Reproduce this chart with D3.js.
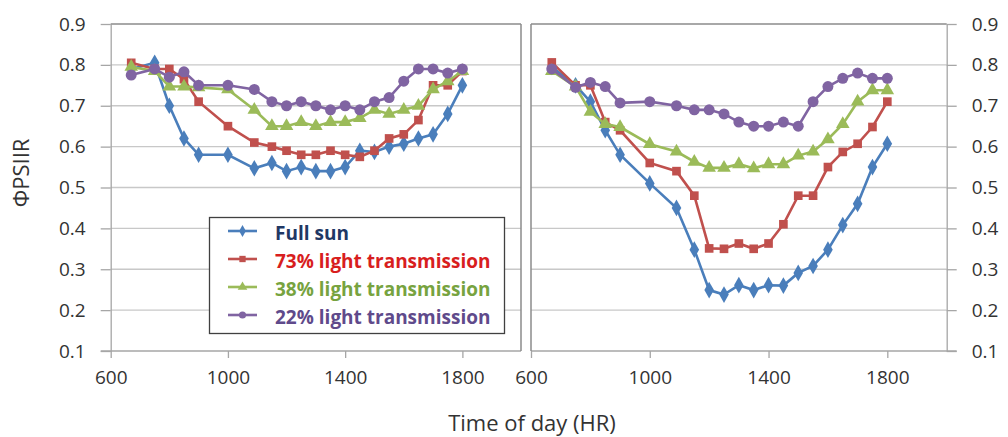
<!DOCTYPE html>
<html>
<head>
<meta charset="utf-8">
<script src="https://cdn.jsdelivr.net/npm/d3@7"></script>
<style>
  body { margin: 0; background: #fff; }
  text { font-family: "Open Sans", Lato, sans-serif; fill: #333; }
</style>
</head>
<body>
<script>
const WIDTH = 1008;
const HEIGHT = 437;
const TOP = 24;
const BOTTOM = 351;

// time of day (HR), same for both panels
var times = [670, 750, 800, 850, 900, 1000, 1090, 1150, 1200, 1250, 1300, 1350, 1400, 1450, 1500, 1550, 1600, 1650, 1700, 1750, 1800];

var fullSunLeft = [0.79, 0.805, 0.70, 0.62, 0.58, 0.58, 0.547, 0.56, 0.54, 0.55, 0.54, 0.54, 0.55, 0.59, 0.587, 0.60, 0.607, 0.62, 0.63, 0.68, 0.75];
var light73Left = [0.805, 0.79, 0.79, 0.765, 0.71, 0.65, 0.61, 0.60, 0.59, 0.58, 0.58, 0.59, 0.58, 0.575, 0.59, 0.62, 0.63, 0.665, 0.75, 0.75, 0.785];
var light38Left = [0.795, 0.785, 0.747, 0.747, 0.745, 0.74, 0.69, 0.65, 0.65, 0.66, 0.65, 0.66, 0.66, 0.67, 0.69, 0.68, 0.69, 0.70, 0.74, 0.76, 0.785];
var light22Left = [0.775, 0.79, 0.77, 0.783, 0.75, 0.75, 0.74, 0.71, 0.70, 0.71, 0.70, 0.69, 0.70, 0.69, 0.71, 0.72, 0.76, 0.79, 0.79, 0.78, 0.79];

var fullSunRight = [0.795, 0.75, 0.71, 0.64, 0.58, 0.51, 0.45, 0.348, 0.249, 0.238, 0.261, 0.249, 0.261, 0.26, 0.291, 0.308, 0.348, 0.408, 0.46, 0.55, 0.607];
var light73Right = [0.806, 0.75, 0.75, 0.66, 0.64, 0.56, 0.54, 0.48, 0.351, 0.35, 0.363, 0.35, 0.363, 0.41, 0.48, 0.48, 0.55, 0.587, 0.607, 0.648, 0.71];
var light38Right = [0.785, 0.747, 0.685, 0.655, 0.648, 0.606, 0.588, 0.563, 0.548, 0.548, 0.557, 0.547, 0.557, 0.557, 0.578, 0.588, 0.618, 0.655, 0.71, 0.738, 0.738];
var light22Right = [0.79, 0.745, 0.757, 0.747, 0.707, 0.71, 0.70, 0.69, 0.69, 0.68, 0.66, 0.65, 0.65, 0.66, 0.65, 0.71, 0.747, 0.767, 0.78, 0.767, 0.767];

var seriesNames = ['Full sun', '73% light transmission', '38% light transmission', '22% light transmission'];
var xTicks = [600, 1000, 1400, 1800];
var yTicks = [0.1, 0.2, 0.3, 0.4, 0.5, 0.6, 0.7, 0.8, 0.9];

var lineColors = ['#4a7ebb', '#c0504d', '#9bbb59', '#8064a2'];
var textColors = ['#1f3864', '#d81e1e', '#77a33f', '#5f4a8b'];
var symbols = [d3.symbolDiamond, d3.symbolSquare, d3.symbolTriangle, d3.symbolCircle];
var symbolSizes = [80, 75, 80, 95];

var svg = d3.select('body').append('svg')
    .attr('width', WIDTH)
    .attr('height', HEIGHT);

var yScale = d3.scaleLinear().domain([0.1, 0.9]).range([BOTTOM, TOP]);

var drawPanel = function (x0, x1, side, seriesValues) {
    var xScale = d3.scaleLinear().domain([600, 2000]).range([x0, x1]);

    // gridlines
    svg.append('g')
        .selectAll('line')
        .data(yTicks.slice(1, -1))
        .enter().append('line')
        .attr('x1', x0).attr('x2', x1)
        .attr('y1', yScale).attr('y2', yScale)
        .attr('stroke', '#c8c8c8')
        .attr('stroke-width', 1.3);

    // y axis with outward ticks
    var yAxis = side === 'left' ? d3.axisLeft(yScale) : d3.axisRight(yScale);
    var yG = svg.append('g')
        .attr('transform', 'translate(' + (side === 'left' ? x0 : x1) + ',0)')
        .call(yAxis.tickValues(yTicks).tickSize(10).tickPadding(15).tickSizeOuter(0).tickFormat(d3.format('.1f')));
    yG.selectAll('line, path').attr('stroke', '#a6a6a6').attr('stroke-width', 1.3);
    yG.selectAll('text').style('font-size', '19px').attr('fill', '#333');

    // x axis
    var xG = svg.append('g')
        .attr('transform', 'translate(0,' + BOTTOM + ')')
        .call(d3.axisBottom(xScale).tickValues(xTicks).tickSize(7).tickPadding(13).tickSizeOuter(0).tickFormat(d3.format('d')));
    xG.selectAll('line, path').attr('stroke', '#a6a6a6').attr('stroke-width', 1.3);
    xG.selectAll('text').style('font-size', '19px').attr('fill', '#333');
    if (side === 'left') {
        xG.select('.domain').attr('d', 'M' + (x0 - 10) + ',0H' + x1);
    } else {
        xG.select('.domain').attr('d', 'M' + x0 + ',0H' + (x1 + 10));
    }

    // plot-area border (top and outer edge)
    var edgeX = side === 'left' ? x1 : x0;
    svg.append('path')
        .attr('d', 'M' + x0 + ',' + TOP + 'H' + x1 + 'M' + edgeX + ',' + TOP + 'V' + BOTTOM)
        .attr('fill', 'none')
        .attr('stroke', '#8c8c8c')
        .attr('stroke-width', 1.5);

    var line = d3.line()
        .x(function (d) { return xScale(d.x); })
        .y(function (d) { return yScale(d.y); });

    seriesValues.forEach(function (values, i) {
        var data = times.map(function (t, j) { return {x: t, y: values[j]}; });
        var g = svg.append('g');
        g.append('path')
            .attr('d', line(data))
            .attr('fill', 'none')
            .attr('stroke', lineColors[i])
            .attr('stroke-width', 2.6);
        g.selectAll('path.mark')
            .data(data)
            .enter().append('path')
            .classed('mark', true)
            .attr('transform', function (d) {
                return 'translate(' + xScale(d.x) + ',' + yScale(d.y) + ')';
            })
            .attr('d', d3.symbol().type(symbols[i]).size(symbolSizes[i]))
            .attr('fill', lineColors[i]);
    });
};

drawPanel(110.7, 521, 'left', [fullSunLeft, light73Left, light38Left, light22Left]);
drawPanel(531, 946.7, 'right', [fullSunRight, light73Right, light38Right, light22Right]);

// axis titles
svg.append('text')
    .attr('x', 532)
    .attr('y', 431)
    .attr('text-anchor', 'middle')
    .style('font-size', '22px')
    .text('Time of day (HR)');

svg.append('text')
    .attr('transform', 'translate(29,173) rotate(-90)')
    .attr('text-anchor', 'middle')
    .style('font-size', '22px')
    .text('ΦPSIIR');

// legend
var legend = svg.append('g');
legend.append('rect')
    .attr('x', 209.5).attr('y', 217.5)
    .attr('width', 295).attr('height', 116)
    .attr('fill', '#fff')
    .attr('stroke', '#404040')
    .attr('stroke-width', 1.3);

seriesNames.forEach(function (name, i) {
    var cy = 232 + i * 28;
    legend.append('line')
        .attr('x1', 228).attr('x2', 257)
        .attr('y1', cy - 1).attr('y2', cy - 1)
        .attr('stroke', lineColors[i])
        .attr('stroke-width', 2.6);
    legend.append('path')
        .attr('transform', 'translate(242.5,' + (cy - 1) + ')')
        .attr('d', d3.symbol().type(symbols[i]).size(40))
        .attr('fill', lineColors[i]);
    legend.append('text')
        .attr('x', 275)
        .attr('y', cy + 1)
        .attr('dy', '0.35em')
        .style('font-size', '19px')
        .style('font-weight', 'bold')
        .style('fill', textColors[i])
        .text(name);
});
</script>
</body>
</html>
